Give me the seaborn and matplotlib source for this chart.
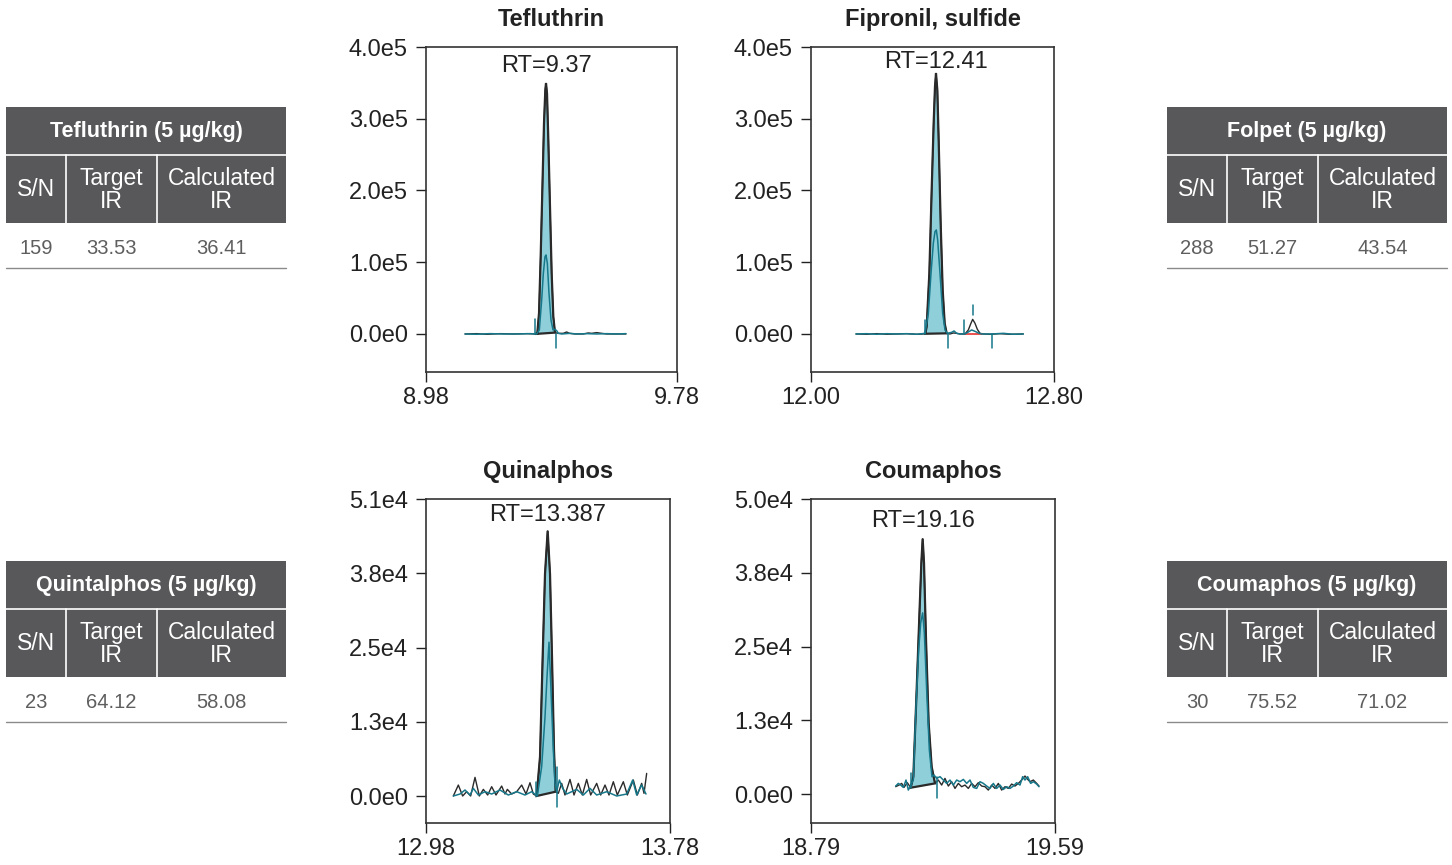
import numpy as np
import matplotlib.pyplot as plt
import seaborn as sns
from matplotlib.patches import Rectangle

sns.set_style("ticks")
plt.rcParams["font.family"] = ["Liberation Sans", "DejaVu Sans"]

# ---------------------------------------------------------
# Chromatogram data (retention time in min, intensity in counts)
# ---------------------------------------------------------
teflu_t_black = [9.1043, 9.1415, 9.1734, 9.2159, 9.2583, 9.3008, 9.3274, 9.3348, 9.3402,
                 9.3455, 9.3508, 9.3561, 9.3603, 9.3625, 9.3657, 9.3699, 9.3752, 9.3805,
                 9.3858, 9.3911, 9.4018, 9.4177, 9.4283, 9.4368, 9.4549, 9.4815, 9.4974,
                 9.5080, 9.5239, 9.5399, 9.5558, 9.5877, 9.6174]
teflu_i_black = [0, 465, -465, 465, 0, 465, 0, 930, 28800,
                 107800, 200700, 293600, 340100, 349400, 335400, 270400, 177500, 84600,
                 24200, 1900, 900, 900, 2800, 900, 0, 0, 1400,
                 900, 1900, 900, 0, 0, 0]
teflu_t_teal = [9.1043, 9.1415, 9.1840, 9.2265, 9.2690, 9.3115, 9.3327, 9.3412, 9.3487,
                9.3540, 9.3593, 9.3625, 9.3667, 9.3720, 9.3784, 9.3848, 9.3911, 9.3965,
                9.4018, 9.4124, 9.4390, 9.4602, 9.4921, 9.5239, 9.5558, 9.5877, 9.6174]
teflu_i_teal = [0, -400, 465, 0, 0, 465, 0, 5600, 47400,
                84600, 107800, 110100, 98500, 56700, 19500, 5600, 6500, 4600,
                900, 0, 900, 0, 465, 0, 465, 0, 465]

fipro_t_black = [12.1481, 12.1833, 12.2162, 12.2491, 12.2820, 12.3150, 12.3479, 12.3720,
                 12.3764, 12.3808, 12.3896, 12.3973, 12.4038, 12.4082, 12.4115, 12.4159,
                 12.4203, 12.4269, 12.4335, 12.4401, 12.4466, 12.4576, 12.4686, 12.4796,
                 12.4905, 12.5070, 12.5180, 12.5256, 12.5322, 12.5399, 12.5476, 12.5564,
                 12.5673, 12.5893, 12.6222, 12.6551, 12.6990]
fipro_i_black = [0, -400, 465, -400, 0, 400, -400, 0,
                 300, 10200, 84600, 200700, 293600, 344700, 363300, 340100,
                 270400, 154200, 61300, 14900, 900, 0, 1400, 900,
                 0, 0, 5600, 13900, 20400, 14900, 6500, 900,
                 0, -400, 400, -400, 0]
fipro_t_teal = [12.1481, 12.1833, 12.2162, 12.2491, 12.2820, 12.3150, 12.3479, 12.3753,
                12.3863, 12.3951, 12.4027, 12.4082, 12.4126, 12.4170, 12.4247, 12.4335,
                12.4412, 12.4488, 12.4631, 12.4708, 12.4796, 12.4905, 12.5070, 12.5180,
                12.5289, 12.5399, 12.5509, 12.5619, 12.5948, 12.6332, 12.6661, 12.6990]
fipro_i_teal = [0, 400, -400, 400, 0, 400, -400, 900,
                28800, 84600, 126400, 142600, 145000, 131000, 84600, 28800,
                5600, 900, 2300, 4200, 900, 0, 0, 2800,
                5600, 3700, 1400, 0, 0, 900, -400, 0]

quina_t_black = [13.0696, 13.0860, 13.1002, 13.1133, 13.1264, 13.1407, 13.1549, 13.1680,
                 13.1822, 13.1953, 13.2095, 13.2281, 13.2390, 13.2467, 13.2609, 13.2773,
                 13.2937, 13.3079, 13.3210, 13.3319, 13.3428, 13.3538, 13.3625, 13.3702,
                 13.3789, 13.3866, 13.3931, 13.3997, 13.4051, 13.4139, 13.4248, 13.4357,
                 13.4521, 13.4653, 13.4795, 13.4926, 13.5068, 13.5199, 13.5396, 13.5527,
                 13.5669, 13.5800, 13.5942, 13.6073, 13.6270, 13.6401, 13.6598, 13.6729,
                 13.6871, 13.6948, 13.7035]
quina_i_black = [0, 1880, 0, 740, 0, 3200, 0, 1140,
                 170, 1600, 170, 1710, 340, 1140, 340, 740,
                 1880, 340, 2280, 340, 0, 6730, 23850, 38110,
                 45530, 38110, 23850, 7870, 740, 460, 2170, 170,
                 2850, 170, 2170, 170, 2850, 170, 2170, 170,
                 1880, 170, 2450, 170, 2450, 170, 2740, 170,
                 2170, 460, 3880]
quina_t_teal = [13.0696, 13.0915, 13.1079, 13.1243, 13.1352, 13.1516, 13.1734, 13.1953,
                13.2226, 13.2499, 13.2773, 13.3046, 13.3264, 13.3450, 13.3592, 13.3702,
                13.3767, 13.3833, 13.3898, 13.3975, 13.4029, 13.4084, 13.4172, 13.4281,
                13.4412, 13.4576, 13.4740, 13.4959, 13.5177, 13.5396, 13.5724, 13.6052,
                13.6380, 13.6576, 13.6707, 13.6871, 13.7013]
quina_i_teal = [0, 340, 1030, 170, 1310, 170, 740, 340,
                1030, 170, 740, 170, 740, 0, 5020, 13580,
                20420, 26410, 18140, 7870, 2170, 740, 2740, 1310,
                340, 740, 1140, 170, 1310, 170, 740, 0,
                340, 2740, 170, 1880, 340]

couma_t_black = [19.0676, 19.0785, 19.0873, 19.0949, 19.1058, 19.1168, 19.1255, 19.1364,
                 19.1452, 19.1518, 19.1561, 19.1605, 19.1671, 19.1758, 19.1856, 19.1966,
                 19.2075, 19.2184, 19.2293, 19.2403, 19.2512, 19.2621, 19.2731, 19.2840,
                 19.2949, 19.3058, 19.3168, 19.3277, 19.3386, 19.3496, 19.3605, 19.3714,
                 19.3824, 19.3933, 19.4042, 19.4151, 19.4261, 19.4370, 19.4479, 19.4589,
                 19.4698, 19.4807, 19.4916, 19.5004, 19.5080, 19.5190, 19.5299, 19.5375]
couma_i_black = [1250, 1530, 1810, 1130, 1930, 1080, 2950, 17670,
                 30130, 39190, 43270, 39190, 26170, 12010, 4640, 1810,
                 2380, 1530, 2660, 1360, 2100, 960, 1810, 1250,
                 1530, 960, 1810, 1250, 1930, 1360, 1250, 680,
                 1530, 960, 1810, 680, 1250, 960, 1700, 1360,
                 1810, 2380, 3060, 2490, 2100, 2380, 1810, 1360]
couma_t_teal = [19.0676, 19.0763, 19.0840, 19.0927, 19.1015, 19.1091, 19.1255, 19.1343,
                19.1430, 19.1496, 19.1561, 19.1616, 19.1692, 19.1780, 19.1867, 19.1933,
                19.2020, 19.2130, 19.2239, 19.2348, 19.2457, 19.2567, 19.2676, 19.2785,
                19.2895, 19.3004, 19.3113, 19.3222, 19.3332, 19.3441, 19.3550, 19.3660,
                19.3769, 19.3878, 19.3987, 19.4097, 19.4206, 19.4315, 19.4424, 19.4534,
                19.4643, 19.4752, 19.4840, 19.4916, 19.5004, 19.5102, 19.5190, 19.5299,
                19.5375]
couma_i_teal = [1360, 1810, 1530, 1130, 2380, 680, 2380, 14840,
                24470, 29000, 30700, 27300, 17670, 7480, 2950, 3230,
                2660, 2950, 2380, 1810, 2380, 1530, 2380, 2100,
                2490, 1810, 2380, 1130, 960, 2100, 1810, 1360,
                960, 1810, 960, 1530, 790, 1250, 960, 1360,
                1930, 1530, 2950, 2380, 2950, 1810, 2100, 1700,
                1250]

# integration markers: (time, intensity from, intensity to)
teflu_marks = [(9.3274, 0, 20400), (9.3933, 0, -20000)]
fipro_marks = [(12.3753, 0, 19500), (12.4499, 0, -20000), (12.5026, 0, 19500),
               (12.5320, 26500, 40400), (12.5948, 0, -20000)]
quina_marks = [(13.3407, 0, 2450), (13.4084, 5020, -1830)]
couma_marks = [(19.1168, 1080, 3620), (19.2020, 2950, -740)]

# integrated windows of the quantifier trace
teflu_window = (9.3274, 9.3933)
fipro_window = (12.3753, 12.4499)
quina_window = (13.3407, 13.4084)
couma_window = (19.1168, 19.2020)
fipro_minor_baseline = ([12.5048, 12.5619], [0, 0])

compounds = ["Tefluthrin", "Fipronil, sulfide", "Quinalphos", "Coumaphos"]
rt_labels = ["RT=9.37", "RT=12.41", "RT=13.387", "RT=19.16"]
x_limits = [(8.98, 9.78), (12.00, 12.80), (12.98, 13.78), (18.79, 19.59)]
y_limits = [(-53000, 400000), (-53000, 400000), (-4636, 51000), (-4900, 50000)]
y_ticks = [[0, 100000, 200000, 300000, 400000],
           [0, 100000, 200000, 300000, 400000],
           [0, 12750, 25500, 38250, 51000],
           [0, 12500, 25000, 37500, 50000]]
y_ticklabels = [["0.0e0", "1.0e5", "2.0e5", "3.0e5", "4.0e5"],
                ["0.0e0", "1.0e5", "2.0e5", "3.0e5", "4.0e5"],
                ["0.0e0", "1.3e4", "2.5e4", "3.8e4", "5.1e4"],
                ["0.0e0", "1.3e4", "2.5e4", "3.8e4", "5.0e4"]]

# summary tables
table_titles = ["Tefluthrin (5 µg/kg)", "Folpet (5 µg/kg)",
                "Quintalphos (5 µg/kg)", "Coumaphos (5 µg/kg)"]
table_headers = ["S/N", "Target\nIR", "Calculated\nIR"]
table_sn = ["159", "288", "23", "30"]
table_target_ir = ["33.53", "51.27", "64.12", "75.52"]
table_calc_ir = ["36.41", "43.54", "58.08", "71.02"]

# ---------------------------------------------------------
# Styling
# ---------------------------------------------------------
BLACK = "#2a2a2a"
TEAL = "#16788a"
FILL = "#8ecfda"
HEAD = "#58585a"
W, H = 1452, 865

fig = plt.figure(figsize=(W / 100, H / 100), dpi=100)

# axes boxes in pixels: left, top, right, bottom
boxes = [(426, 47, 677, 372), (811, 47, 1054, 372),
         (426, 499, 670, 823), (811, 499, 1055, 823)]

traces = [
    (teflu_t_black, teflu_i_black, teflu_t_teal, teflu_i_teal, teflu_marks, teflu_window),
    (fipro_t_black, fipro_i_black, fipro_t_teal, fipro_i_teal, fipro_marks, fipro_window),
    (quina_t_black, quina_i_black, quina_t_teal, quina_i_teal, quina_marks, quina_window),
    (couma_t_black, couma_i_black, couma_t_teal, couma_i_teal, couma_marks, couma_window),
]
rt_y = [0.942, 0.955, 0.951, 0.933]

for k, (box, tr) in enumerate(zip(boxes, traces)):
    l, t, r, b = box
    ax = fig.add_axes([l / W, 1 - b / H, (r - l) / W, (b - t) / H])
    tb, ib, tt, it, marks, win = tr
    tb = np.array(tb)
    ib = np.array(ib)

    sel = (tb >= win[0] - 1e-6) & (tb <= win[1] + 1e-6)
    ax.fill(tb[sel], ib[sel], facecolor=FILL, edgecolor=BLACK, lw=1.6, zorder=1)

    sns.lineplot(x=tb, y=ib, ax=ax, color=BLACK, lw=1.0, estimator=None, sort=False, zorder=2)
    sns.lineplot(x=tt, y=it, ax=ax, color=TEAL, lw=1.1, estimator=None, sort=False, zorder=3)

    for mt, m0, m1 in marks:
        ax.plot([mt, mt], [m0, m1], color=TEAL, lw=1.1, zorder=4)

    if k == 1:
        ax.plot(fipro_minor_baseline[0], fipro_minor_baseline[1], color="#e8312f", lw=1.2, zorder=2)

    ax.set_xlim(*x_limits[k])
    ax.set_ylim(*y_limits[k])
    ax.set_xticks(list(x_limits[k]))
    ax.set_xticklabels([f"{v:.2f}" for v in x_limits[k]])
    ax.set_yticks(y_ticks[k])
    ax.set_yticklabels(y_ticklabels[k])
    ax.set_xlabel("")
    ax.set_ylabel("")
    ax.tick_params(axis="y", direction="out", length=7, width=1, pad=6,
                   labelsize=17, colors="#222222")
    ax.tick_params(axis="x", direction="out", length=7, width=1, pad=4,
                   labelsize=17, colors="#222222")
    for sp in ax.spines.values():
        sp.set_visible(True)
        sp.set_color("#333333")
        sp.set_linewidth(1.2)

    ax.set_title(compounds[k], fontsize=17, fontweight="bold", color="#222222", pad=15)
    apex_t = tb[np.argmax(ib)]
    ax.text(apex_t, rt_y[k], rt_labels[k], transform=ax.get_xaxis_transform(),
            ha="center", va="center", fontsize=17, color="#222222")

# ---------------------------------------------------------
# Tables
# ---------------------------------------------------------
tab = fig.add_axes([0, 0, 1, 1])
tab.set_xlim(0, W)
tab.set_ylim(H, 0)
tab.axis("off")

table_origins = [(6, 107), (1167, 107), (6, 561), (1167, 561)]
col_widths = [60, 91, 129]

for k, (x0, y0) in enumerate(table_origins):
    w = sum(col_widths)
    tab.add_patch(Rectangle((x0, y0), w, 116, facecolor=HEAD, edgecolor="none"))
    tab.plot([x0, x0 + w], [y0 + 48, y0 + 48], color="white", lw=1.2)
    edges = np.cumsum([x0] + col_widths)
    for cx in edges[1:-1]:
        tab.plot([cx, cx], [y0 + 48, y0 + 116], color="white", lw=1.2)
    tab.text(x0 + w / 2, y0 + 24, table_titles[k], ha="center", va="center",
             color="white", fontsize=15.5, fontweight="bold")
    row = [table_sn[k], table_target_ir[k], table_calc_ir[k]]
    for j in range(3):
        cx = (edges[j] + edges[j + 1]) / 2
        tab.text(cx, y0 + 83, table_headers[j], ha="center", va="center",
                 color="white", fontsize=16.5, linespacing=1.0)
        tab.text(cx, y0 + 141, row[j], ha="center", va="center",
                 color="#5e5e5e", fontsize=14.5)
    tab.plot([x0, x0 + w], [y0 + 161, y0 + 161], color="#8a8a8a", lw=1.0)

fig.savefig("out.png", dpi=100)
